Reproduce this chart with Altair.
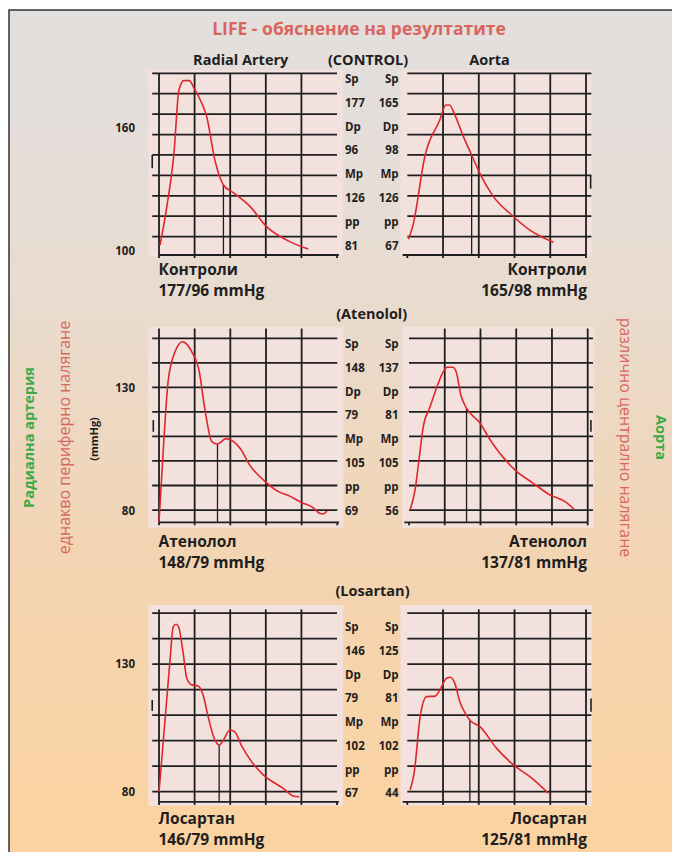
import altair as alt
import pandas as pd

# ------------------------------------------------------------------ data
groups = ["Контроли", "Атенолол", "Лосартан"]
group_headers = ["(CONTROL)", "(Atenolol)", "(Losartan)"]

radial_sp = [177, 148, 146]
radial_dp = [96, 79, 79]
radial_mp = [126, 105, 102]
radial_pp = [81, 69, 67]
aorta_sp = [165, 137, 125]
aorta_dp = [98, 81, 81]
aorta_mp = [126, 105, 102]
aorta_pp = [67, 56, 44]

ylabel_values = [[160, 100], [130, 80], [130, 80]]
grid_values = [
    [110, 120, 130, 140, 150, 160, 170, 180, 190],
    [80, 90, 100, 110, 120, 130, 140, 150],
    [80, 90, 100, 110, 120, 130, 140, 150],
]
x_ticks = [0, 1, 2, 3, 4, 5]
radial_verticals = [0, 1, 2, 3, 4]
aorta_verticals = [1, 2, 3, 4, 5]

# waveforms (time in grid units, pressure in mmHg)
ctrl_rad_t = [0.03, 0.22, 0.42, 0.56, 0.70, 0.85, 0.98, 1.15, 1.34, 1.57, 1.81, 2.09, 2.56, 3.02, 3.59, 4.19]
ctrl_rad_p = [105.9, 124.7, 150.8, 181.8, 186.4, 186.4, 182.9, 177.3, 168.7, 147.5, 135.3, 131.5, 124.7, 114.9, 108.3, 103.9]
ctrl_ao_t = [0.03, 0.15, 0.50, 0.91, 1.08, 1.18, 1.33, 1.57, 1.80, 2.03, 2.41, 2.92, 3.43, 4.09]
ctrl_ao_p = [108.7, 114.9, 150.0, 167.1, 174.5, 174.5, 169.6, 159.0, 150.0, 141.0, 129.6, 120.6, 113.2, 107.2]
aten_rad_t = [0.00, 0.12, 0.26, 0.45, 0.66, 0.73, 0.92, 1.12, 1.29, 1.48, 1.64, 1.88, 2.09, 2.29, 2.54, 2.98, 3.35, 3.60, 4.01, 4.32, 4.50, 4.60, 4.71]
aten_rad_p = [75.2, 104.5, 133.0, 144.5, 148.6, 148.2, 144.5, 137.1, 120.8, 107.9, 106.9, 109.1, 107.9, 104.9, 98.4, 91.6, 87.5, 86.1, 83.0, 81.0, 78.7, 78.4, 79.6]
aten_ao_t = [0.03, 0.17, 0.29, 0.40, 0.59, 0.82, 0.96, 1.07, 1.22, 1.32, 1.45, 1.61, 1.99, 2.27, 2.97, 3.48, 3.95, 4.37, 4.62]
aten_ao_p = [80.0, 88.2, 101.8, 114.0, 122.1, 131.7, 136.4, 138.2, 138.2, 136.4, 126.9, 121.5, 115.4, 108.6, 96.3, 90.9, 86.1, 83.4, 80.3]
losa_rad_t = [0.00, 0.17, 0.31, 0.40, 0.48, 0.55, 0.68, 0.78, 0.92, 1.10, 1.24, 1.38, 1.57, 1.69, 1.81, 1.99, 2.13, 2.31, 2.60, 2.93, 3.49, 3.77, 3.94]
losa_rad_p = [80.0, 108.1, 131.7, 144.7, 145.7, 144.7, 134.3, 124.5, 121.9, 121.5, 117.9, 109.4, 100.3, 98.3, 100.3, 104.2, 103.5, 98.3, 91.8, 86.6, 81.3, 78.3, 78.0]
losa_ao_t = [0.08, 0.19, 0.36, 0.54, 0.78, 0.91, 1.10, 1.21, 1.33, 1.47, 1.62, 1.76, 2.03, 2.50, 2.97, 3.43, 3.95]
losa_ao_p = [80.7, 87.2, 109.4, 117.3, 117.5, 119.9, 124.5, 124.9, 122.5, 115.3, 110.8, 107.9, 105.5, 97.0, 90.5, 85.9, 79.4]

# dicrotic notch (time, pressure) and mean-pressure marker (time, top, bottom)
notch_t = [[1.81, 1.80], [1.64, 1.61], [1.69, 1.75]]
notch_p = [[135.3, 150.0], [106.9, 121.5], [98.3, 108.0]]
marker_t = [[-0.19, 5.13], [-0.16, 5.09], [-0.19, 5.14]]
marker_top = [[150.0, 140.0], [116.7, 116.7], [116.0, 116.6]]
marker_bot = [[143.5, 133.5], [111.9, 111.9], [111.7, 111.4]]

curves = [
    [(ctrl_rad_t, ctrl_rad_p), (ctrl_ao_t, ctrl_ao_p)],
    [(aten_rad_t, aten_rad_p), (aten_ao_t, aten_ao_p)],
    [(losa_rad_t, losa_rad_p), (losa_ao_t, losa_ao_p)],
]

# ------------------------------------------------------------------ layout (page px)
W, H = 664, 844
OX, OY = 8, 8
FONT = "Open Sans"
INK = "#1e1e1e"
RED = "#e0262c"
SALMON = "#d9655f"
GREEN = "#3daa48"
PINK = "#f3e1de"

rows = [
    dict(ydom=[101, 190], ypx=[255, 73.3], vtop=190, pink=[100.5, 191.6],
         xr=[[159, 337], [407.3, 586]], col=[80, 246.7], cap=[269.5, 291], ylab_dy=-5.5),
    dict(ydom=[75, 154], ypx=[522.3, 328.5], vtop=154, pink=[72.8, 154.7],
         xr=[[159, 337.3], [409, 587.7]], col=[345, 511.7], cap=[541.5, 563], ylab_dy=1.5),
    dict(ydom=[76, 151.5], ypx=[801.9, 609.4], vtop=151.5, pink=[74.5, 153.2],
         xr=[[159, 337], [407.3, 586]], col=[628.3, 794.3], cap=[818.5, 840], ylab_dy=1),
]
pink_x = [[-0.30, 5.17], [-0.19, 5.17]]
hgrid_x = [[-0.19, 5.0], [0.0, 5.15]]
axis_x = [[0.0, 5.05], [-0.13, 5.0]]
TICK_PX = 3


def xsc(r, side):
    a, b = rows[r]["xr"][side]
    return alt.Scale(domain=[0, 5], range=[a - OX, b - OX], nice=False, zero=False)


def ysc(r):
    a, b = rows[r]["ypx"]
    return alt.Scale(domain=rows[r]["ydom"], range=[a - OY, b - OY], nice=False, zero=False)


def X(f, r, s):
    return alt.X(f, type="quantitative", scale=xsc(r, s), axis=None)


def Y(f, r):
    return alt.Y(f, type="quantitative", scale=ysc(r), axis=None)


layers = []

# background with gradient and frame
bg = alt.Chart(pd.DataFrame({"a": [0]})).mark_rect(
    fill=alt.Gradient(
        gradient="linear", x1=0, x2=0, y1=0, y2=1,
        stops=[
            alt.GradientStop(color="#e3dfdc", offset=0),
            alt.GradientStop(color="#e4dedb", offset=0.12),
            alt.GradientStop(color="#e9dbce", offset=0.35),
            alt.GradientStop(color="#f3d4b2", offset=0.65),
            alt.GradientStop(color="#fcd39f", offset=1),
        ],
    ),
    stroke="#333333", strokeWidth=1.5,
).encode(x=alt.value(1), x2=alt.value(W + 30), y=alt.value(2), y2=alt.value(852))
layers.append(bg)

for r in range(3):
    R = rows[r]
    ymin = R["ydom"][0]
    px_per_unit = (R["ypx"][0] - R["ypx"][1]) / (R["ydom"][1] - R["ydom"][0])
    tick_val = TICK_PX / px_per_unit
    for s in range(2):
        # pink panel
        df = pd.DataFrame({"a": [pink_x[s][0]], "b": [pink_x[s][1]], "c": [R["pink"][0]], "d": [R["pink"][1]]})
        layers.append(alt.Chart(df).mark_rect(color=PINK).encode(
            x=X("a", r, s), x2="b", y=Y("c", r), y2="d"))
        # horizontal grid
        g = grid_values[r]
        df = pd.DataFrame({"y": g, "x0": [hgrid_x[s][0]] * len(g), "x1": [hgrid_x[s][1]] * len(g)})
        layers.append(alt.Chart(df).mark_rule(color=INK, strokeWidth=1.8).encode(
            x=X("x0", r, s), x2="x1", y=Y("y", r)))
        # baseline
        df = pd.DataFrame({"y": [ymin], "x0": [axis_x[s][0]], "x1": [axis_x[s][1]]})
        layers.append(alt.Chart(df).mark_rule(color=INK, strokeWidth=1.8).encode(
            x=X("x0", r, s), x2="x1", y=Y("y", r)))
        # vertical grid
        v = radial_verticals if s == 0 else aorta_verticals
        df = pd.DataFrame({"x": v, "y0": [ymin] * len(v), "y1": [R["vtop"]] * len(v)})
        layers.append(alt.Chart(df).mark_rule(color=INK, strokeWidth=1.8).encode(
            x=X("x", r, s), y=Y("y0", r), y2="y1"))
        # ticks
        df = pd.DataFrame({"x": x_ticks, "y0": [ymin] * 6, "y1": [ymin - tick_val] * 6})
        layers.append(alt.Chart(df).mark_rule(color=INK, strokeWidth=1.8).encode(
            x=X("x", r, s), y=Y("y0", r), y2="y1"))
        # notch line
        df = pd.DataFrame({"x": [notch_t[r][s]], "y0": [ymin], "y1": [notch_p[r][s]]})
        layers.append(alt.Chart(df).mark_rule(color=INK, strokeWidth=1.3).encode(
            x=X("x", r, s), y=Y("y0", r), y2="y1"))
        # mean marker
        df = pd.DataFrame({"x": [marker_t[r][s]], "y0": [marker_bot[r][s]], "y1": [marker_top[r][s]]})
        layers.append(alt.Chart(df).mark_rule(color=INK, strokeWidth=1.6).encode(
            x=X("x", r, s), y=Y("y0", r), y2="y1"))
        # waveform
        t, p = curves[r][s]
        df = pd.DataFrame({"t": t, "p": p, "o": list(range(len(t)))})
        layers.append(alt.Chart(df).mark_line(color=RED, strokeWidth=1.6, interpolate="monotone").encode(
            x=X("t", r, s), y=Y("p", r), order="o:O"))

    # y labels
    df = pd.DataFrame({"v": ylabel_values[r], "lab": [str(v) for v in ylabel_values[r]]})
    layers.append(alt.Chart(df).mark_text(align="right", baseline="middle", font=FONT, fontSize=11.5,
                                          fontWeight="bold", color=INK, dy=R["ylab_dy"]).encode(
        x=alt.value(135 - OX), y=Y("v", r), text="lab:N"))

    # value columns
    left = ["Sp", str(radial_sp[r]), "Dp", str(radial_dp[r]), "Mp", str(radial_mp[r]), "pp", str(radial_pp[r])]
    right = ["Sp", str(aorta_sp[r]), "Dp", str(aorta_dp[r]), "Mp", str(aorta_mp[r]), "pp", str(aorta_pp[r])]
    rs = alt.Scale(domain=[0, 7], range=[R["col"][0] - OY, R["col"][1] - OY], nice=False, zero=False)
    for labs, xpos, al in [(left, 345, "left"), (right, 398.5, "right")]:
        df = pd.DataFrame({"i": list(range(8)), "lab": labs})
        layers.append(alt.Chart(df).mark_text(align=al, baseline="middle", font=FONT, fontSize=11.5,
                                              fontWeight="bold", color=INK).encode(
            x=alt.value(xpos - OX), y=alt.Y("i:Q", scale=rs, axis=None), text="lab:N"))

    # captions
    for s, (xpos, al, sp, dp) in enumerate([(158.5, "left", radial_sp[r], radial_dp[r]),
                                              (587, "right", aorta_sp[r], aorta_dp[r])]):
        for k, txt in enumerate([groups[r], f"{sp}/{dp} mmHg"]):
            layers.append(alt.Chart(pd.DataFrame({"a": [0]})).mark_text(
                text=txt, align=al, baseline="middle", font=FONT, fontSize=15.5,
                fontWeight="bold", color=INK).encode(
                x=alt.value(xpos - OX), y=alt.value(R["cap"][k] - OY)))


def label(txt, x, y, size, color=INK, weight="bold", angle=0):
    return alt.Chart(pd.DataFrame({"a": [0]})).mark_text(
        text=txt, align="center", baseline="middle", font=FONT, fontSize=size,
        fontWeight=weight, color=color, angle=angle).encode(
        x=alt.value(x - OX), y=alt.value(y - OY))


layers += [
    label("LIFE - обяснение на резултатите", 359, 30, 17.5, color=SALMON),
    label("Radial Artery", 240.7, 60.7, 14.5),
    label(group_headers[0], 368, 60.7, 14.5),
    label("Aorta", 489.5, 60.7, 14.5),
    label(group_headers[1], 371.7, 315, 14.5),
    label(group_headers[2], 372.5, 591.7, 14.5),
    label("(mmHg)", 95, 439, 11, angle=270),
    label("Радиална артерия", 30, 437.5, 14.5, color=GREEN, angle=270),
    label("еднакво периферно налягане", 65, 437.5, 16, color=SALMON, weight="normal", angle=270),
    label("различно централно налягане", 625, 437.5, 16, color=SALMON, weight="normal", angle=90),
    label("Аорта", 659.5, 437.5, 14.5, color=GREEN, angle=90),
]

chart = alt.layer(*layers).resolve_scale(x="independent", y="independent").properties(
    width=W, height=H, autosize=alt.AutoSizeParams(type="none"), padding=0,
).configure_view(stroke=None)

chart.save("out.html", embed_options={"renderer": "svg", "actions": False})
